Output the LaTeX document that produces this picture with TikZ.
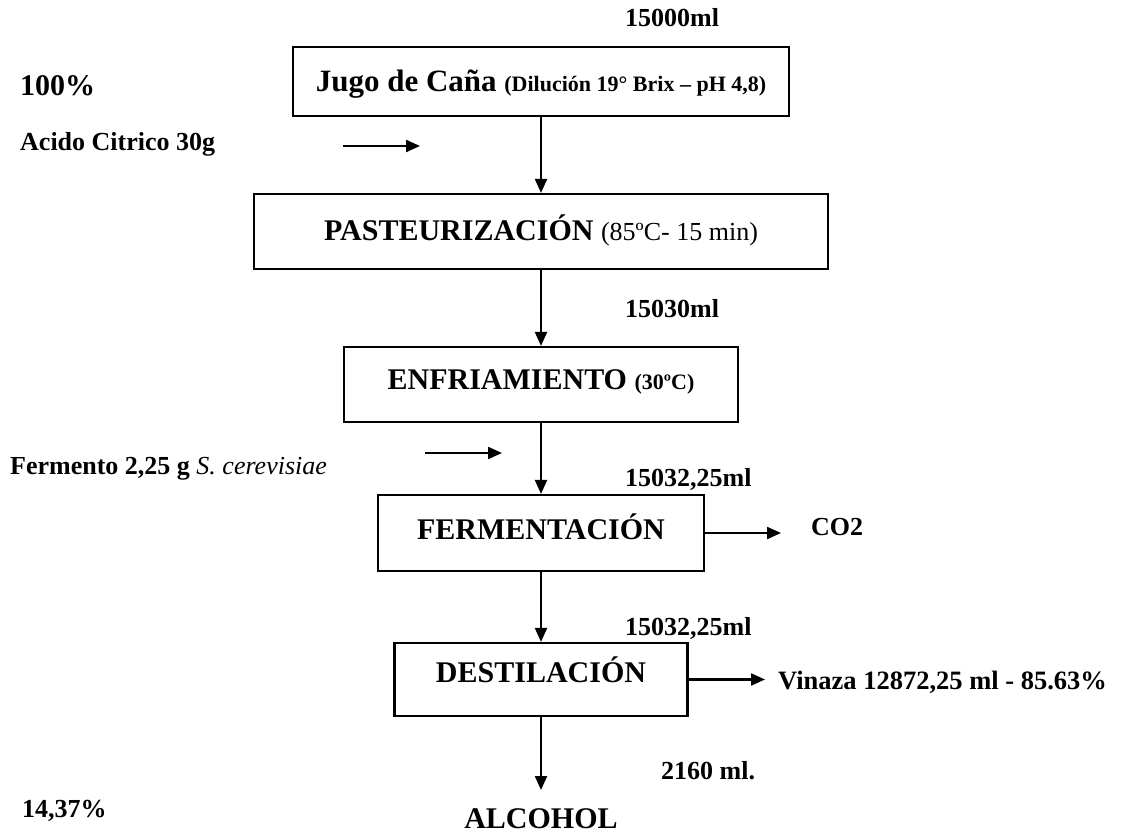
\documentclass[tikz,border=0pt]{standalone}
\usepackage{fontspec}
\setmainfont{Liberation Serif}
\usetikzlibrary{arrows.meta,calc}
\tikzset{
  stage/.style={draw, line width=2.2pt, inner sep=0pt},
  flow/.style={line width=2.2pt, -{Triangle[length=14pt,width=12pt]}},
  txt/.style={anchor=base west, inner sep=0pt},
  ctr/.style={anchor=base, inner sep=0pt},
}
\newcommand{\bigsz}{\fontsize{30}{34}\selectfont}
\newcommand{\jugosz}{\fontsize{31}{35}\selectfont}
\newcommand{\midsz}{\fontsize{26}{30}\selectfont}
\newcommand{\smlsz}{\fontsize{22}{25}\selectfont}
\begin{document}
\begin{tikzpicture}[x=1pt,y=-1pt]
\useasboundingbox (0,0) rectangle (1128,835);

% process stages
\node[stage, minimum width=496pt, minimum height=69pt] (jugo) at (541,81.5) {};
\node[stage, minimum width=574pt, minimum height=75pt] (pas) at (541,231.5) {};
\node[stage, minimum width=394pt, minimum height=75pt] (enf) at (541,384.5) {};
\node[stage, minimum width=326pt, minimum height=76pt] (ferm) at (541,533) {};
\node[stage, minimum width=293pt, minimum height=73pt] (dest) at (541,679.5) {};

% stage titles
\node[ctr] (jugot) at (541,91) {\bfseries\jugosz Jugo de Caña \smlsz(Dilución 19° Brix – pH 4,8)};
\node[ctr] (past) at (541,240) {\bfseries\bigsz PASTEURIZACIÓN \mdseries\midsz(85ºC- 15 min)};
\node[ctr] (enft) at (541,389) {\bfseries\bigsz ENFRIAMIENTO \smlsz(30ºC)};
\node[ctr] (fermt) at (541,539) {\bfseries\bigsz FERMENTACIÓN};
\node[ctr] (destt) at (541,682) {\bfseries\bigsz DESTILACIÓN};
\node[ctr] (alc) at (541,828) {\bfseries\bigsz ALCOHOL};

% quantities along the line
\node[txt] (q0) at (625,27) {\bfseries\midsz 15000ml};
\node[txt] (q1) at (625,317) {\bfseries\midsz 15030ml};
\node[txt] (q2) at (625,486) {\bfseries\midsz 15032,25ml};
\node[txt] (q3) at (625,635) {\bfseries\midsz 15032,25ml};
\node[txt] (q4) at (661,779) {\bfseries\midsz 2160 ml.};

% side notes
\node[txt] (p100) at (20,95) {\bfseries\bigsz 100\%};
\node[txt] (acid) at (20,150) {\bfseries\midsz Acido Citrico 30g};
\node[txt] (yeast) at (10,474) {\bfseries\midsz Fermento 2,25 g \mdseries\itshape S. cerevisiae};
\node[txt] (co2) at (811,535) {\bfseries\midsz CO2};
\node[txt] (vin) at (778,689) {\bfseries\fontsize{26.5}{30}\selectfont Vinaza 12872,25 ml - 85.63\%};
\node[txt] (p14) at (22,817) {\bfseries\midsz 14,37\%};

% arrow end points
\coordinate (acidA) at (343,146);
\coordinate (acidB) at (420,146);
\coordinate (yeastA) at (425,453);
\coordinate (yeastB) at (502,453);
\coordinate (co2end) at (781,533);
\coordinate (vinend) at (765,679.5);
\coordinate (alcend) at (541,790);

% main flow
\draw[flow] (jugo.south) -- (pas.north);
\draw[flow] (pas.south) -- (enf.north);
\draw[flow] (enf.south) -- (ferm.north);
\draw[flow] (ferm.south) -- (dest.north);
\draw[flow] (dest.south) -- (alcend);

% additions and outputs
\draw[flow] (acidA) -- (acidB);
\draw[flow] (yeastA) -- (yeastB);
\draw[flow] (ferm.east) -- (co2end);
\draw[flow] (dest.east) -- (vinend);
\end{tikzpicture}
\end{document}
